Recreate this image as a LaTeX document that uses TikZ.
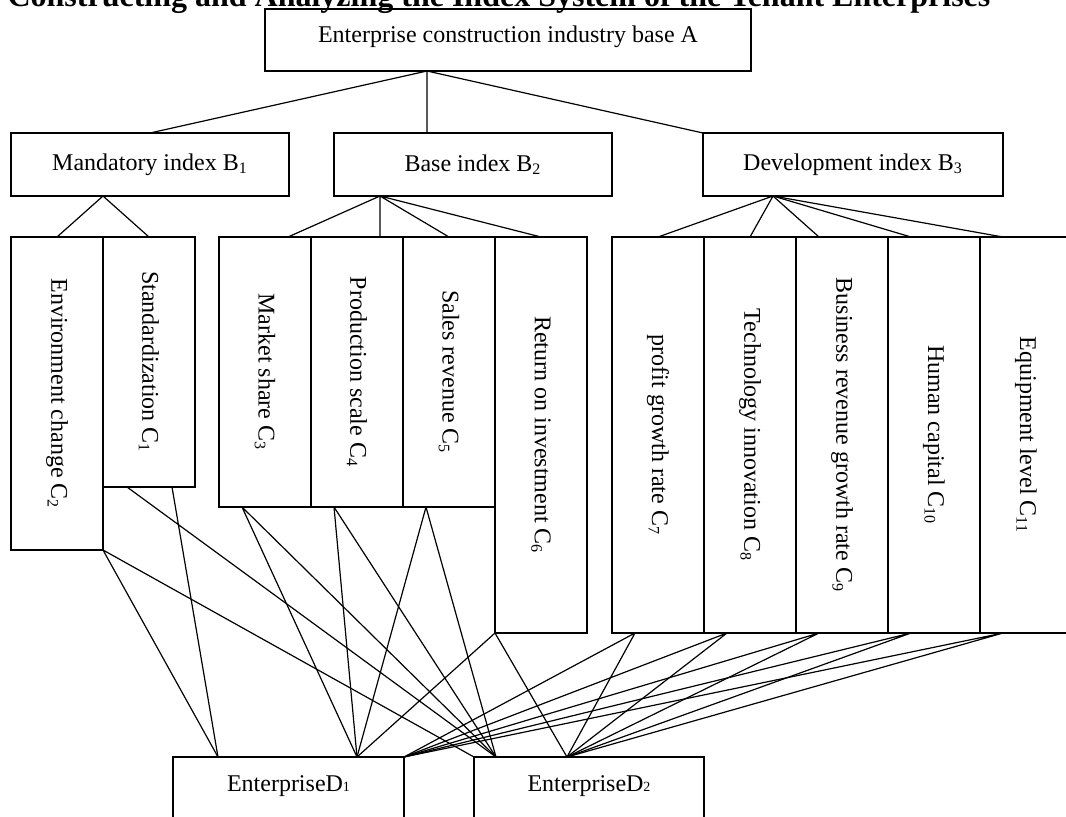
\documentclass[tikz,border=0pt]{standalone}
\usepackage{fontspec}
\setmainfont{Liberation Serif}
\usetikzlibrary{positioning, calc}

\tikzset{
  box/.style={draw, line width=0.6pt, outer sep=0pt, font=\fontsize{12}{14}\selectfont},
  bbox/.style={box, anchor=north west, minimum height=31.5pt},
  cbox/.style={box, anchor=north west, minimum width=46pt},
  dbox/.style={box, anchor=north west, inner ysep=4pt, text height=13pt, text depth=20pt},
  link/.style={line width=0.6pt},
}

\begin{document}
\begin{tikzpicture}[x=0.5pt, y=-0.5pt]
  \useasboundingbox (0,0) rectangle (1066,816);

  \node[anchor=base, font=\fontsize{16}{19}\selectfont\bfseries] (title) at (499,6)
    {Constructing and Analyzing the Index System of the Tenant Enterprises};

  % goal
  \node[box, anchor=north west, minimum width=243pt, inner ysep=3pt,
        text height=13.5pt, text depth=11.5pt] (A) at (265,9)
    {Enterprise construction industry base A};

  % criteria
  \node[bbox, minimum width=139pt] (B1) at (11,133) {Mandatory index B\textsubscript{1}};
  \node[bbox, minimum width=139pt] (B2) at (334,133) {Base index B\textsubscript{2}};
  \node[bbox, minimum width=150pt] (B3) at (703,133) {Development index B\textsubscript{3}};

  % indices
  \node[cbox, minimum height=156.5pt] (C2) at (11,237)
    {\rotatebox{-90}{Environment change C\textsubscript{2}}};
  \node[cbox, minimum height=125pt, right=0pt of C2.north east, anchor=north west] (C1)
    {\rotatebox{-90}{Standardization C\textsubscript{1}}};

  \node[cbox, minimum height=135pt] (C3) at (219,237)
    {\rotatebox{-90}{Market share C\textsubscript{3}}};
  \node[cbox, minimum height=135pt, right=0pt of C3.north east, anchor=north west] (C4)
    {\rotatebox{-90}{Production scale C\textsubscript{4}}};
  \node[cbox, minimum height=135pt, right=0pt of C4.north east, anchor=north west] (C5)
    {\rotatebox{-90}{Sales revenue C\textsubscript{5}}};
  \node[cbox, minimum height=198pt, right=0pt of C5.north east, anchor=north west] (C6)
    {\rotatebox{-90}{Return on investment C\textsubscript{6}}};

  \node[cbox, minimum height=198pt] (C7) at (612,237)
    {\rotatebox{-90}{profit growth rate C\textsubscript{7}}};
  \node[cbox, minimum height=198pt, right=0pt of C7.north east, anchor=north west] (C8)
    {\rotatebox{-90}{Technology innovation C\textsubscript{8}}};
  \node[cbox, minimum height=198pt, right=0pt of C8.north east, anchor=north west] (C9)
    {\rotatebox{-90}{Business revenue growth rate C\textsubscript{9}}};
  \node[cbox, minimum height=198pt, right=0pt of C9.north east, anchor=north west] (C10)
    {\rotatebox{-90}{Human capital C\textsubscript{10}}};
  \node[cbox, minimum height=198pt, right=0pt of C10.north east, anchor=north west] (C11)
    {\rotatebox{-90}{Equipment level C\textsubscript{11}}};

  % alternatives
  \node[dbox, minimum width=115.5pt] (D1) at (173,757) {EnterpriseD{\scriptsize 1}};
  \node[dbox, minimum width=115pt] (D2) at (474,757) {EnterpriseD{\scriptsize 2}};

  % A -> B
  \coordinate (a0) at ($(A.south west)+(162,0)$);
  \draw[link] (a0) -- (B1.north)
              (a0) -- (a0 |- B2.north)
              (a0) -- (B3.north west);

  % B -> C
  \coordinate (b1) at (B1.south -| C2.north east);
  \draw[link] (C2.north) -- (b1) -- (C1.north);

  \coordinate (b2) at ($(B2.south west)+(46,0)$);
  \draw[link] (b2) -- ($(C3.north east)+(-23,0)$)
              (b2) -- (b2 |- C4.north)
              (b2) -- (C5.north)
              (b2) -- (C6.north);

  \coordinate (b3) at ($(B3.south west)+(70,0)$);
  \draw[link] (b3) -- (C7.north) (b3) -- (C8.north);
  \foreach \i in {9,10,11}
    \draw[link] (b3) -- ($(C\i.north west)+(23,0)$);

  % C -> D
  \coordinate (d1a) at ($(D1.north west)+(45,0)$);
  \coordinate (d1b) at ($(D1.north east)+(-47,0)$);
  \coordinate (d2a) at ($(D2.north west)+(22,0)$);
  \coordinate (d2b) at ($(D2.north west)+(93,0)$);

  \draw[link] (C2.south east) -- (d1a) (C2.south east) -- (D2.north west);
  \draw[link] ($(C1.south east)+(-23,0)$) -- (d1a)
              ($(C1.south west)+(24,0)$) -- (d2a);
  \foreach \i in {3,4,5}
    \draw[link] ($(C\i.south west)+(23,0)$) -- (d1b)
                ($(C\i.south west)+(23,0)$) -- (d2a);
  \draw[link] (C6.south west) -- (d1b) (C6.south west) -- (d2b);
  \foreach \i in {7,...,11}
    \draw[link] ($(C\i.south west)+(23,0)$) -- (D1.north east)
                ($(C\i.south west)+(23,0)$) -- (d2b);
\end{tikzpicture}
\end{document}
